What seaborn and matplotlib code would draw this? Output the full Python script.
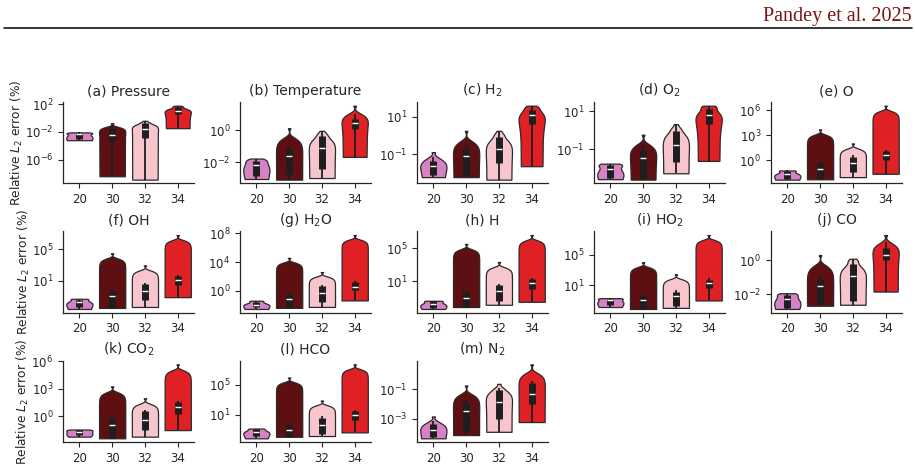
import numpy as np
import pandas as pd
import matplotlib
matplotlib.use("Agg")
import matplotlib.pyplot as plt
from matplotlib.ticker import NullLocator
from matplotlib.lines import Line2D
import seaborn as sns

# ---------------- data (sample values per violin: 20, 30, 32, 34) ----------------
levels = ["20", "30", "32", "34"]
colors = ["#d682c5", "#5e0f11", "#f7c6cd", "#df2024"]

pressure = [
    [6.3e-4, 7e-4, 7.5e-4, 8.5e-4, 1.5e-3, 4e-3, 4.8e-3, 5.5e-3, 6.5e-3, 7e-3, 7.8e-3, 8.5e-3],
    [4e-9, 1e-6, 3e-4, 6e-4, 1.5e-3, 3e-3, 5e-3, 1e-2, 2.5e-2, 4e-2, 5e-2, 0.17],
    [1.3e-9, 1e-6, 8e-4, 1.5e-3, 8e-3, 2e-2, 3e-2, 6e-2, 0.15, 0.2, 0.25, 0.4],
    [0.034, 1, 2.5, 4.5, 6, 8, 9.5, 15, 30, 40, 48, 59],
]
temperature = [
    [9.3e-4, 1.1e-3, 1.2e-3, 1.5e-3, 4e-3, 6.5e-3, 7.3e-3, 1e-2, 1.2e-2, 1.3e-2, 1.5e-2, 1.74e-2],
    [8.5e-4, 1e-3, 1.4e-3, 2e-3, 8e-3, 2e-2, 2.8e-2, 4e-2, 6e-2, 8e-2, 0.1, 1.32],
    [1.07e-3, 1.5e-3, 2.5e-3, 4e-3, 1.5e-2, 6e-2, 9.5e-2, 0.2, 0.4, 0.5, 0.6, 0.91],
    [0.022, 0.3, 0.8, 1.3, 2, 2.4, 2.8, 3.5, 5, 6, 10, 33],
]
h2 = [
    [6e-3, 6.5e-3, 7e-3, 8e-3, 1.5e-2, 2.2e-2, 2.7e-2, 3.5e-2, 4.4e-2, 5e-2, 7e-2, 0.13],
    [6e-3, 6.3e-3, 6.5e-3, 7e-3, 2e-2, 7e-2, 0.1, 0.13, 0.18, 0.22, 0.3, 1.78],
    [4.4e-3, 1e-2, 2e-2, 4e-2, 8e-2, 0.15, 0.21, 0.35, 0.8, 0.95, 1.2, 1.78],
    [0.023, 0.5, 2, 4.5, 7, 10, 13.5, 17, 23, 28, 33, 39],
]
o2 = [
    [2.75e-3, 3e-3, 3.1e-3, 3.3e-3, 5e-3, 8.5e-3, 9.7e-3, 1.3e-2, 1.5e-2, 1.55e-2, 1.65e-2, 1.8e-2],
    [2.6e-3, 2.65e-3, 2.7e-3, 2.8e-3, 1e-2, 3e-2, 4.2e-2, 6e-2, 9e-2, 0.11, 0.15, 0.59],
    [5.6e-3, 1e-2, 1.5e-2, 2.5e-2, 6e-2, 0.15, 0.21, 0.4, 0.85, 1.1, 1.3, 2.1],
    [0.025, 0.3, 1, 2.5, 4, 5.5, 6.5, 9, 13, 16, 17.5, 19.5],
]
o = [
    [4.3e-3, 4.6e-3, 5e-3, 6e-3, 1.2e-2, 1.6e-2, 2e-2, 3e-2, 4.5e-2, 5e-2, 5.3e-2, 5.5e-2],
    [4.7e-3, 5e-3, 5.3e-3, 5.8e-3, 2e-2, 6e-2, 0.1, 0.2, 0.35, 0.5, 0.8, 5000],
    [8.7e-3, 1.5e-2, 2.5e-2, 3.8e-2, 0.1, 0.35, 0.55, 1, 2.4, 3, 4, 100],
    [0.022, 0.2, 0.6, 1.15, 2.5, 3.5, 4.5, 7, 12, 14, 18, 3.6e6],
]
oh = [
    [2.8e-3, 3.2e-3, 4e-3, 6e-3, 1.2e-2, 1.7e-2, 2.1e-2, 3e-2, 4.2e-2, 4.8e-2, 5.1e-2, 5.4e-2],
    [3.8e-3, 3.9e-3, 4e-3, 4.2e-3, 2e-2, 8e-2, 0.13, 0.25, 0.5, 0.6, 1, 2.9e4],
    [5e-3, 1.5e-2, 3e-2, 4.5e-2, 0.15, 0.45, 0.6, 1.5, 3.3, 4, 5, 870],
    [0.087, 0.5, 1.5, 3.3, 6, 10, 14, 22, 36, 45, 55, 5.9e6],
]
h2o = [
    [2.8e-3, 3.2e-3, 4e-3, 5e-3, 8e-3, 1e-2, 1.2e-2, 1.8e-2, 2.8e-2, 3.3e-2, 3.7e-2, 4e-2],
    [4e-3, 4.1e-3, 4.2e-3, 4.4e-3, 1.5e-2, 5e-2, 8e-2, 0.15, 0.33, 0.45, 0.7, 3.8e4],
    [5.4e-3, 1e-2, 1.8e-2, 2.8e-2, 0.1, 0.38, 0.5, 1.5, 4.2, 5.5, 7, 400],
    [0.044, 0.3, 0.8, 1.4, 2.5, 3.2, 4, 7, 16, 20, 25, 5.9e7],
]
h = [
    [4e-3, 4.5e-3, 5e-3, 6e-3, 1e-2, 1.4e-2, 1.8e-2, 2.4e-2, 3.2e-2, 3.5e-2, 3.8e-2, 4e-2],
    [6.9e-3, 7e-3, 7.1e-3, 7.3e-3, 2.5e-2, 6.5e-2, 0.1, 0.2, 0.38, 0.5, 0.8, 3.3e5],
    [0.013, 0.02, 0.028, 0.035, 0.15, 0.55, 0.85, 1.5, 3.1, 4, 5, 2100],
    [0.03, 0.3, 0.7, 1.1, 3, 4.6, 5.8, 9, 17, 21, 26, 4e6],
]
ho2 = [
    [0.013, 0.016, 0.02, 0.03, 0.06, 0.085, 0.105, 0.13, 0.16, 0.17, 0.18, 0.19],
    [7.2e-3, 7.4e-3, 7.6e-3, 8e-3, 3e-2, 8e-2, 0.11, 0.2, 0.36, 0.45, 0.7, 1e4],
    [0.01, 0.013, 0.017, 0.021, 0.1, 0.28, 0.36, 0.7, 1.3, 1.7, 2.2, 263],
    [0.095, 0.8, 2, 4.3, 9, 14, 19, 30, 50, 62, 75, 3.8e7],
]
co = [
    [1.35e-3, 1.4e-3, 1.45e-3, 1.6e-3, 3e-3, 4.8e-3, 5.4e-3, 7e-3, 9e-3, 9.6e-3, 1.05e-2, 1.15e-2],
    [2.1e-3, 2.2e-3, 2.3e-3, 2.7e-3, 1e-2, 2.7e-2, 3.5e-2, 5e-2, 8e-2, 0.1, 0.14, 2.1],
    [2.4e-3, 2.8e-3, 3.3e-3, 3.9e-3, 2e-2, 0.1, 0.135, 0.3, 0.6, 0.8, 1, 1.26],
    [0.0145, 0.2, 0.6, 1.2, 1.7, 2.1, 2.4, 3.5, 5.2, 7, 12, 32],
]
co2 = [
    [6.2e-3, 7e-3, 8e-3, 1e-2, 1.6e-2, 2e-2, 2.2e-2, 2.6e-2, 3e-2, 3.3e-2, 3.5e-2, 3.7e-2],
    [4.1e-3, 4.3e-3, 4.6e-3, 5e-3, 3e-2, 9e-2, 0.13, 0.3, 0.6, 0.8, 1.2, 1800],
    [6.2e-3, 1.2e-2, 2.2e-2, 3.5e-2, 0.1, 0.38, 0.5, 1.2, 3.3, 4.2, 5.5, 91],
    [0.032, 0.4, 1, 1.8, 5, 8.5, 11.5, 20, 33, 42, 50, 4.4e5],
]
hco = [
    [6.9e-3, 8e-3, 1e-2, 1.5e-2, 3.5e-2, 4.8e-2, 5.4e-2, 7e-2, 0.1, 0.12, 0.13, 0.14],
    [0.011, 0.0112, 0.0115, 0.012, 0.04, 0.075, 0.095, 0.2, 0.45, 0.55, 0.8, 9.3e5],
    [0.014, 0.018, 0.021, 0.024, 0.1, 0.42, 0.54, 1.3, 3.4, 4.5, 6, 780],
    [0.043, 0.4, 1.1, 2, 4.5, 7, 9.2, 15, 26, 33, 40, 5.4e7],
]
n2 = [
    [4.7e-5, 5e-5, 5.2e-5, 5.5e-5, 1e-4, 1.5e-4, 1.8e-4, 2.5e-4, 4e-4, 5e-4, 7e-4, 1.45e-3],
    [7.8e-5, 9e-5, 1.2e-4, 1.6e-4, 8e-4, 2.6e-3, 3.8e-3, 6e-3, 1.2e-2, 1.5e-2, 2e-2, 0.186],
    [1.3e-4, 3e-4, 6e-4, 1e-3, 5e-3, 1.3e-2, 1.7e-2, 4e-2, 8e-2, 0.1, 0.13, 0.24],
    [6e-4, 2.5e-3, 6e-3, 1.2e-2, 3e-2, 4.5e-2, 5.7e-2, 0.1, 0.25, 0.4, 0.8, 5.1],
]

titles = ["(a) Pressure", "(b) Temperature", "(c) H$_2$", "(d) O$_2$", "(e) O",
          "(f) OH", "(g) H$_2$O", "(h) H", "(i) HO$_2$", "(j) CO",
          "(k) CO$_2$", "(l) HCO", "(m) N$_2$"]
series = [pressure, temperature, h2, o2, o, oh, h2o, h, ho2, co, co2, hco, n2]
yticks = [[1e-6, 1e-2, 1e2], [1e-2, 1e0], [1e-1, 1e1], [1e-1, 1e1], [1e0, 1e3, 1e6],
          [1e1, 1e5], [1e0, 1e4, 1e8], [1e1, 1e5], [1e1, 1e5], [1e-2, 1e0],
          [1e0, 1e3, 1e6], [1e1, 1e5], [1e-3, 1e-1]]

# ---------------- figure ----------------
sns.set_style("ticks")
plt.rcParams["font.family"] = ["DejaVu Sans"]
plt.rcParams["axes.edgecolor"] = "#262626"
plt.rcParams["xtick.color"] = "#262626"
plt.rcParams["ytick.color"] = "#262626"

fig = plt.figure(figsize=(9.15, 4.68), dpi=100)
gs = fig.add_gridspec(3, 5, left=63 / 915, right=902 / 915, top=1 - 102 / 468,
                      bottom=1 - 442 / 468, wspace=0.35, hspace=0.59)

for i in range(15):
    ax = fig.add_subplot(gs[i // 5, i % 5])
    if i >= len(series):
        ax.set_visible(False)
        continue
    vals = series[i]
    df = pd.DataFrame({
        "case": np.concatenate([[lv] * len(v) for lv, v in zip(levels, vals)]),
        "err": np.concatenate([np.asarray(v, float) for v in vals]),
    })
    sns.violinplot(data=df, x="case", y="err", hue="case", order=levels, hue_order=levels,
                   palette=colors, saturation=1, legend=False, cut=0, inner="box",
                   density_norm="width", width=0.8, linewidth=0.9, linecolor="#2a2a2a",
                   inner_kws=dict(box_width=5, whis_width=1.3, color="#1e1e1e",
                                  solid_capstyle="butt"), ax=ax)
    ax.set_yscale("log")
    lo = min(min(v) for v in vals)
    hi = max(max(v) for v in vals)
    span = np.log10(hi) - np.log10(lo)
    ax.set_ylim(10 ** (np.log10(lo) - 0.05 * span), 10 ** (np.log10(hi) + 0.05 * span))
    ax.set_yticks(yticks[i])
    ax.yaxis.set_minor_locator(NullLocator())
    ax.set_xlim(-0.5, 3.5)
    ax.set_xlabel("")
    ax.set_ylabel("")
    ax.set_title(titles[i], fontsize=10, pad=5)
    ax.tick_params(axis="both", labelsize=8.5, length=3.5, width=0.8)
    for sp in ["left", "bottom"]:
        ax.spines[sp].set_linewidth(0.9)
    sns.despine(ax=ax)
    if i % 5 == 0:
        ax.set_ylabel("Relative $L_2$ error (%)", fontsize=8.8, labelpad=0)

fig.text(912 / 915, 1 - 21 / 468, "Pandey et al. 2025", ha="right", va="baseline",
         family=["Liberation Serif", "DejaVu Serif"], fontsize=14.5, color="#7a1518")
fig.add_artist(Line2D([4 / 915, 912 / 915], [1 - 27.5 / 468] * 2, color="black", lw=1.1))

fig.savefig("out.png", dpi=100)
